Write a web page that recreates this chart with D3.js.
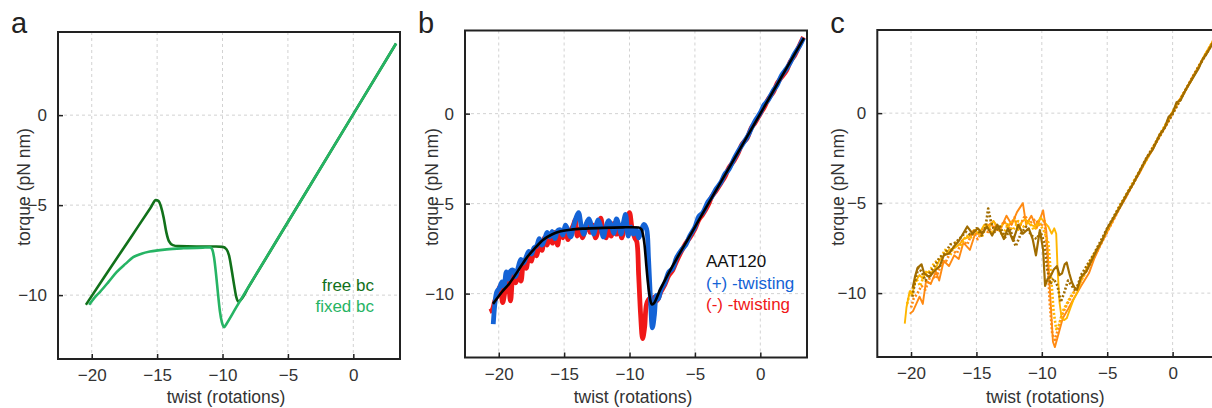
<!DOCTYPE html>
<html>
<head>
<meta charset="utf-8">
<script src="https://cdn.jsdelivr.net/npm/d3@7"></script>
<style>
  body { margin: 0; background: #fff; }
  svg { display: block; font-family: "Liberation Sans", Arial, Helvetica, sans-serif; }
  .tick text { fill: #333; font-size: 17px; }
  .tick line { stroke: #222; stroke-width: 1.5; }
</style>
</head>
<body>
<div id="chart"></div>
<script>
// axis ticks
var X_TICKS = [-20, -15, -10, -5, 0];
var Y_TICKS = [-10, -5, 0];

// panel a: model curves
var FREE_BC = [[-20.45,-10.54],[-19,-8.95],[-17,-6.78],[-15.5,-5.15],[-15.1,-4.72],[-14.9,-4.76],[-14.7,-5.1],[-14.5,-5.7],[-14.3,-6.5],[-14.1,-7.0],[-13.8,-7.22],[-13.4,-7.28],[-12,-7.3],[-10.5,-7.3],[-10,-7.32],[-9.7,-7.45],[-9.5,-7.8],[-9.3,-8.6],[-9.1,-9.5],[-8.95,-10.1],[-8.78,-10.36],[-8.6,-10.26],[-8,-9.54],[-5,-5.94],[0,0.06],[3.27,3.98]];
var FIXED_BC = [[-20.2,-10.54],[-19.8,-10.15],[-19.38,-9.83],[-18.7,-9.25],[-18.1,-8.72],[-17.4,-8.25],[-16.83,-7.89],[-16.2,-7.7],[-15.55,-7.58],[-14.27,-7.46],[-13,-7.4],[-11.5,-7.36],[-10.95,-7.35],[-10.8,-7.45],[-10.65,-7.9],[-10.5,-8.8],[-10.35,-9.9],[-10.2,-10.9],[-10.05,-11.5],[-9.87,-11.78],[-9.7,-11.6],[-9,-10.74],[-5,-5.94],[0,0.06],[3.27,3.98]];

// panel b: AAT120 measurements and fit
var PLUS_TWIST = [[-20.42,-11.7],[-20.3,-10.6],[-20.15,-9.9],[-19.95,-9.7],[-19.75,-9.35],[-19.6,-9.6],[-19.42,-8.8],[-19.25,-9.2],[-19.1,-8.75],[-18.9,-8.7],[-18.7,-9.05],[-18.5,-8.5],[-18.3,-8.1],[-18.1,-8.3],[-17.9,-7.95],[-17.7,-7.65],[-17.5,-7.8],[-17.3,-7.45],[-17.1,-7.35],[-16.9,-6.95],[-16.7,-7.3],[-16.5,-7.0],[-16.3,-6.6],[-16.1,-6.85],[-15.9,-6.55],[-15.7,-6.95],[-15.5,-6.5],[-15.3,-6.45],[-15.1,-6.75],[-14.9,-6.2],[-14.7,-6.5],[-14.5,-6.85],[-14.3,-6.3],[-14.1,-5.8],[-13.9,-5.5],[-13.7,-6.2],[-13.5,-6.7],[-13.3,-6.1],[-13.1,-5.85],[-12.9,-6.3],[-12.75,-6.7],[-12.55,-6.2],[-12.4,-5.9],[-12.2,-6.3],[-12.0,-6.85],[-11.8,-6.3],[-11.6,-5.95],[-11.4,-6.2],[-11.2,-6.65],[-11.0,-5.85],[-10.8,-6.25],[-10.65,-6.7],[-10.45,-6.0],[-10.3,-5.6],[-10.1,-6.8],[-9.9,-6.3],[-9.7,-6.7],[-9.5,-6.4],[-9.3,-6.9],[-9.1,-6.5],[-8.9,-6.15],[-8.7,-6.4],[-8.55,-8.0],[-8.4,-10.3],[-8.25,-11.9],[-8.1,-11.2],[-7.95,-10.1],[-7.8,-10.3],[-7.6,-9.8],[-7.3,-9.4],[-7.0,-8.8],[-6.7,-8.6],[-6.4,-8.0],[-6.0,-7.55],[-5.7,-7.3],[-5.4,-6.8],[-5.0,-6.3],[-4.7,-5.7],[-4.4,-5.5],[-4.0,-4.9],[-3.7,-4.6],[-3.4,-4.2],[-3.0,-3.8],[-2.7,-3.35],[-2.4,-3.1],[-2.0,-2.5],[-1.7,-2.1],[-1.4,-1.75],[-1.0,-1.3],[-0.7,-0.85],[-0.4,-0.4],[0,0.05],[0.3,0.5],[0.6,0.75],[1.0,1.3],[1.3,1.6],[1.6,2.1],[2.0,2.5],[2.3,2.85],[2.6,3.3],[3.0,3.75],[3.3,4.2]];
var MINUS_TWIST = [[-20.7,-11.0],[-20.5,-10.9],[-20.3,-10.4],[-20.1,-10.1],[-19.9,-9.6],[-19.7,-10.5],[-19.5,-9.8],[-19.3,-9.3],[-19.1,-10.4],[-18.9,-9.0],[-18.7,-9.4],[-18.5,-8.9],[-18.3,-9.3],[-18.1,-8.3],[-17.9,-8.6],[-17.7,-7.9],[-17.5,-8.2],[-17.3,-7.6],[-17.1,-7.9],[-16.9,-7.3],[-16.7,-7.6],[-16.5,-6.9],[-16.3,-7.3],[-16.1,-6.8],[-15.9,-7.2],[-15.7,-6.6],[-15.5,-7.3],[-15.3,-6.6],[-15.1,-6.9],[-14.9,-6.4],[-14.7,-7.0],[-14.5,-6.5],[-14.3,-6.2],[-14.15,-5.9],[-14.0,-6.8],[-13.8,-6.4],[-13.6,-6.9],[-13.4,-6.5],[-13.2,-6.0],[-13.0,-6.6],[-12.8,-6.2],[-12.6,-6.9],[-12.4,-6.5],[-12.2,-5.8],[-12.0,-6.6],[-11.8,-6.9],[-11.6,-6.3],[-11.4,-6.8],[-11.2,-6.1],[-11.0,-6.7],[-10.8,-6.2],[-10.6,-6.9],[-10.4,-6.4],[-10.2,-6.1],[-10.0,-5.5],[-9.8,-6.4],[-9.6,-6.9],[-9.45,-7.1],[-9.3,-9.0],[-9.15,-11.2],[-9.0,-12.5],[-8.85,-11.9],[-8.7,-10.6],[-8.5,-10.3],[-8.3,-10.5],[-8.1,-10.2],[-7.9,-10.4],[-7.6,-9.9],[-7.3,-9.5],[-7.0,-9.0],[-6.7,-8.7],[-6.4,-8.2],[-6.0,-7.6],[-5.7,-7.2],[-5.4,-6.9],[-5.0,-6.4],[-4.7,-5.9],[-4.4,-5.6],[-4.0,-5.1],[-3.7,-4.6],[-3.4,-4.3],[-3.0,-3.85],[-2.7,-3.5],[-2.4,-3.0],[-2.0,-2.6],[-1.7,-2.2],[-1.4,-1.7],[-1.0,-1.35],[-0.7,-0.8],[-0.4,-0.5],[0,0],[0.3,0.35],[0.6,0.8],[1.0,1.2],[1.3,1.7],[1.6,2.0],[2.0,2.4],[2.3,2.9],[2.6,3.2],[3.0,3.8],[3.3,4.25]];
var FIT_B = [[-20.44,-10.57],[-19.8,-9.95],[-19.17,-9.42],[-18.5,-8.7],[-17.89,-8.03],[-17.2,-7.45],[-16.62,-7.02],[-15.9,-6.7],[-15.34,-6.55],[-14.5,-6.45],[-13.56,-6.39],[-12,-6.35],[-10.5,-6.32],[-9.74,-6.31],[-9.3,-6.33],[-9.1,-6.42],[-8.95,-6.8],[-8.85,-7.3],[-8.72,-8.4],[-8.59,-9.42],[-8.45,-10.2],[-8.3,-10.6],[-8.15,-10.55],[-7.7,-9.85],[-5,-6.3],[-2.5,-3.15],[0,0],[3.33,4.2]];

// panel c: repeated runs (solid and dotted)
var YELLOW_SOLID = [[-20.48,-11.7],[-20.35,-10.8],[-20.1,-9.9],[-19.9,-10.1],[-19.7,-9.4],[-19.35,-9.0],[-19.1,-9.2],[-18.85,-8.8],[-18.5,-8.9],[-18.1,-8.6],[-17.85,-8.2],[-17.6,-8.0],[-17.3,-7.8],[-17.1,-7.6],[-16.7,-7.5],[-16.3,-7.3],[-16.0,-7.0],[-15.6,-6.9],[-15.2,-6.5],[-14.8,-6.7],[-14.4,-6.2],[-14.1,-6.4],[-13.7,-6.0],[-13.3,-6.5],[-12.9,-6.1],[-12.5,-6.2],[-12.1,-5.9],[-11.8,-6.5],[-11.5,-6.0],[-11.25,-5.9],[-10.9,-6.2],[-10.5,-6.3],[-10.1,-5.8],[-9.75,-6.1],[-9.5,-6.3],[-9.25,-6.7],[-9.05,-6.4],[-8.9,-6.7],[-8.8,-8.6],[-8.65,-10.5],[-8.5,-11.3],[-8.3,-11.5],[-8.1,-11.4],[-7.8,-10.8],[-7.6,-10.4],[-7.25,-9.9],[-7.0,-9.3],[-6.5,-8.5],[-6.0,-7.8],[-5.5,-7.2],[-5.0,-6.5],[-4.5,-5.8],[-4.0,-5.1],[-3.5,-4.5],[-3.0,-3.9],[-2.5,-3.2],[-2.0,-2.6],[-1.5,-1.9],[-1.0,-1.3],[-0.5,-0.6],[0,0.1],[0.5,0.7],[1.0,1.3],[1.5,1.9],[2.0,2.6],[2.5,3.3],[3.0,3.9],[3.4,4.4]];
var ORANGE_SOLID = [[-20.1,-11.15],[-19.85,-11.0],[-19.6,-10.6],[-19.35,-10.2],[-19.1,-10.6],[-18.85,-9.3],[-18.5,-9.5],[-18.1,-8.8],[-17.85,-9.3],[-17.5,-8.2],[-17.1,-8.5],[-16.7,-7.9],[-16.35,-8.1],[-16.0,-7.2],[-15.5,-7.6],[-15.1,-6.7],[-14.6,-6.7],[-14.2,-6.3],[-13.7,-6.0],[-13.2,-6.5],[-12.7,-5.7],[-12.3,-6.2],[-11.9,-5.5],[-11.45,-5.0],[-11.2,-6.2],[-10.8,-5.7],[-10.4,-6.4],[-9.9,-5.4],[-9.65,-6.6],[-9.4,-9.6],[-9.15,-12.7],[-9.0,-13.0],[-8.7,-12.2],[-8.4,-11.4],[-8.0,-10.9],[-7.63,-10.4],[-7.0,-9.6],[-6.4,-8.9],[-6.0,-8.1],[-5.5,-7.3],[-5.0,-6.6],[-4.5,-5.9],[-4.0,-5.2],[-3.5,-4.6],[-3.0,-3.9],[-2.5,-3.3],[-2.0,-2.6],[-1.5,-2.0],[-1.0,-1.3],[-0.5,-0.7],[0,0],[0.5,0.7],[1.0,1.3],[1.5,2.0],[2.0,2.6],[2.5,3.2],[3.0,3.9],[3.4,4.45]];
var BROWN_SOLID = [[-19.87,-9.7],[-19.7,-9.1],[-19.5,-8.6],[-19.2,-8.4],[-19.0,-8.9],[-18.6,-9.1],[-18.25,-8.8],[-17.8,-8.5],[-17.5,-7.9],[-17.1,-7.8],[-16.7,-7.4],[-16.35,-7.1],[-16.1,-6.8],[-15.7,-6.3],[-15.3,-6.7],[-14.9,-6.4],[-14.55,-6.7],[-14.2,-6.3],[-13.8,-6.8],[-13.4,-6.2],[-12.9,-7.0],[-12.6,-6.4],[-12.2,-7.1],[-11.8,-6.2],[-11.45,-6.7],[-11.0,-6.4],[-10.7,-7.0],[-10.45,-7.9],[-10.15,-6.5],[-9.9,-7.6],[-9.75,-9.6],[-9.55,-9.2],[-9.35,-9.1],[-9.1,-8.7],[-8.85,-8.5],[-8.65,-9.0],[-8.45,-8.9],[-8.25,-8.4],[-8.1,-8.3],[-7.9,-8.9],[-7.7,-9.4],[-7.5,-9.7],[-7.3,-9.8],[-7.0,-9.1],[-6.6,-8.8],[-6.2,-8.2],[-5.8,-7.6],[-5.4,-7.1],[-5.0,-6.4],[-4.5,-5.8],[-4.0,-5.2],[-3.5,-4.5],[-3.0,-3.9],[-2.5,-3.2],[-2.0,-2.5],[-1.5,-2.0],[-1.0,-1.2],[-0.6,-0.8],[-0.3,-0.2],[0,0],[0.3,0.6],[0.6,0.7],[1.0,1.3],[1.5,1.9],[2.0,2.5],[2.3,3.0],[2.6,3.3],[3.0,3.8],[3.4,4.4]];
var YELLOW_DOT = [[-20.3,-10.6],[-20.1,-10.0],[-19.85,-9.7],[-19.6,-9.2],[-19.3,-9.6],[-19.0,-9.0],[-18.6,-8.8],[-18.2,-8.3],[-17.8,-8.1],[-17.4,-7.6],[-17.0,-7.9],[-16.6,-7.2],[-16.2,-7.4],[-15.8,-6.8],[-15.4,-6.9],[-15.0,-6.5],[-14.6,-6.9],[-14.2,-6.2],[-13.8,-6.6],[-13.4,-6.3],[-13.0,-6.8],[-12.6,-6.2],[-12.2,-6.5],[-11.8,-6.0],[-11.4,-6.3],[-11.0,-6.0],[-10.6,-6.5],[-10.2,-6.1],[-9.8,-6.6],[-9.5,-7.2],[-9.3,-9.0],[-9.1,-11.0],[-8.9,-12.0],[-8.7,-11.8],[-8.4,-11.0],[-8.1,-10.6],[-7.8,-10.2],[-7.4,-9.8],[-7.0,-9.3],[-6.0,-7.9],[-5.0,-6.5],[-4.0,-5.1],[-3.0,-3.8],[-2.0,-2.6],[-1.0,-1.2],[0,0.05],[1.0,1.3],[2.0,2.6],[3.0,3.9],[3.4,4.4]];
var ORANGE_DOT = [[-20.0,-10.8],[-19.8,-10.3],[-19.5,-10.0],[-19.2,-9.6],[-18.9,-9.8],[-18.5,-9.0],[-18.1,-9.2],[-17.7,-8.4],[-17.3,-8.2],[-16.9,-7.6],[-16.5,-7.8],[-16.1,-7.1],[-15.7,-7.3],[-15.3,-6.6],[-14.9,-7.0],[-14.5,-6.5],[-14.1,-6.6],[-13.7,-6.2],[-13.3,-6.6],[-12.9,-6.0],[-12.5,-6.4],[-12.1,-5.8],[-11.7,-6.3],[-11.3,-5.7],[-10.9,-6.1],[-10.5,-5.9],[-10.1,-6.3],[-9.8,-6.0],[-9.6,-7.5],[-9.4,-10.5],[-9.2,-12.3],[-9.0,-12.6],[-8.8,-12.1],[-8.5,-11.3],[-8.2,-10.8],[-7.9,-10.4],[-7.5,-9.9],[-7.0,-9.3],[-6.0,-8.0],[-5.0,-6.6],[-4.0,-5.2],[-3.0,-3.9],[-2.0,-2.5],[-1.0,-1.3],[0,0],[1.0,1.3],[2.0,2.6],[3.0,3.85],[3.4,4.4]];
var BROWN_DOT = [[-19.9,-10.2],[-19.7,-9.4],[-19.45,-8.6],[-19.2,-8.8],[-18.9,-9.3],[-18.6,-8.9],[-18.2,-8.5],[-17.8,-8.0],[-17.4,-7.8],[-17.0,-7.3],[-16.6,-7.2],[-16.2,-6.9],[-15.8,-6.6],[-15.4,-6.8],[-15.0,-6.4],[-14.6,-6.8],[-14.3,-6.3],[-14.1,-5.3],[-13.9,-6.0],[-13.6,-6.6],[-13.2,-6.3],[-12.8,-6.9],[-12.4,-6.5],[-12.0,-7.4],[-11.6,-6.7],[-11.2,-6.3],[-10.8,-6.8],[-10.4,-7.0],[-10.1,-6.6],[-9.8,-7.2],[-9.6,-8.6],[-9.35,-9.5],[-9.1,-9.2],[-8.8,-9.6],[-8.55,-10.5],[-8.3,-10.0],[-8.0,-9.3],[-7.7,-9.6],[-7.4,-9.9],[-7.0,-9.0],[-6.0,-7.8],[-5.0,-6.4],[-4.0,-5.1],[-3.0,-3.9],[-2.0,-2.5],[-1.0,-1.3],[0,-0.05],[1.0,1.3],[2.0,2.6],[3.0,3.8],[3.4,4.4]];

function drawChart() {
    var svg = d3.select("#chart").append("svg")
        .attr("width", 1212)
        .attr("height", 408);

    var W = 342, H = 327;
    // shared scale domains (same for all three panels)
    var xDomain = [-22.58, 3.57];
    var yDomain = [-13.55, 4.62];

    var panels = [
        { letter: "a", left: 58, top: 32, ylabelX: 24,
          series: [
            { data: FREE_BC, color: "#11711a", width: 2.6, curve: d3.curveMonotoneX },
            { data: FIXED_BC, color: "#26b464", width: 2.6, curve: d3.curveMonotoneX }
          ],
          legend: [
            { text: "free bc", color: "#11711a", x: 374, y: 291, anchor: "end" },
            { text: "fixed bc", color: "#26b464", x: 374, y: 312, anchor: "end" }
          ] },
        { letter: "b", left: 465, top: 30.5, ylabelX: 432,
          series: [
            { data: MINUS_TWIST, color: "#f01818", width: 4.8, curve: d3.curveCatmullRom },
            { data: PLUS_TWIST, color: "#1463d6", width: 4.8, curve: d3.curveCatmullRom },
            { data: FIT_B, color: "#000", width: 2.6, curve: d3.curveMonotoneX }
          ],
          legend: [
            { text: "AAT120", color: "#111", x: 706, y: 267, anchor: "start" },
            { text: "(+) -twisting", color: "#1463d6", x: 706, y: 288.5, anchor: "start" },
            { text: "(-) -twisting", color: "#f01818", x: 706, y: 310, anchor: "start" }
          ] },
        { letter: "c", left: 877.3, top: 30, ylabelX: 838,
          series: [
            { data: ORANGE_SOLID, color: "#ff8a12", width: 1.9, curve: d3.curveLinear },
            { data: YELLOW_SOLID, color: "#ffb600", width: 1.9, curve: d3.curveLinear },
            { data: ORANGE_DOT, color: "#ff8a12", width: 2.6, dash: "2,2", curve: d3.curveLinear },
            { data: YELLOW_DOT, color: "#ffb600", width: 2.6, dash: "2,2", curve: d3.curveLinear },
            { data: BROWN_DOT, color: "#a06c00", width: 2.6, dash: "2,2", curve: d3.curveLinear },
            { data: BROWN_SOLID, color: "#a06c00", width: 2.2, curve: d3.curveLinear }
          ],
          legend: [] }
    ];

    panels.forEach(function (p) {
        var x = d3.scaleLinear().domain(xDomain).range([0, W]);
        var y = d3.scaleLinear().domain(yDomain).range([H, 0]);
        var g = svg.append("g").attr("transform", "translate(" + p.left + "," + p.top + ")");

        // dashed grid
        g.selectAll(".vgrid").data(X_TICKS).enter().append("line")
            .attr("x1", function (d) { return x(d); }).attr("x2", function (d) { return x(d); })
            .attr("y1", 0).attr("y2", H)
            .attr("stroke", "#d2d2d2").attr("stroke-dasharray", "3,3");
        g.selectAll(".hgrid").data(Y_TICKS).enter().append("line")
            .attr("y1", function (d) { return y(d); }).attr("y2", function (d) { return y(d); })
            .attr("x1", 0).attr("x2", W)
            .attr("stroke", "#d2d2d2").attr("stroke-dasharray", "3,3");

        // data lines
        p.series.forEach(function (s) {
            var line = d3.line()
                .x(function (d) { return x(d[0]); })
                .y(function (d) { return y(d[1]); })
                .curve(s.curve);
            g.append("path")
                .datum(s.data)
                .attr("d", line)
                .attr("fill", "none")
                .attr("stroke", s.color)
                .attr("stroke-width", s.width)
                .attr("stroke-linejoin", "round")
                .attr("stroke-dasharray", s.dash || null);
        });

        // axes, inward ticks
        var xAxis = g.append("g").attr("transform", "translate(0," + H + ")")
            .call(d3.axisBottom(x).tickValues(X_TICKS).tickSize(-5).tickPadding(10));
        var yAxis = g.append("g")
            .call(d3.axisLeft(y).tickValues(Y_TICKS).tickSize(-5).tickPadding(11));
        xAxis.select(".domain").remove();
        yAxis.select(".domain").remove();
        svg.selectAll(".tick text").attr("font-family", null);

        // frame
        g.append("rect")
            .attr("width", W).attr("height", H)
            .attr("fill", "none").attr("stroke", "#222").attr("stroke-width", 2);

        // axis labels
        svg.append("text")
            .attr("x", p.left + W / 2 - 3).attr("y", 403)
            .attr("text-anchor", "middle")
            .attr("font-size", "17.5px").attr("fill", "#333")
            .text("twist (rotations)");
        svg.append("text")
            .attr("transform", "translate(" + p.ylabelX + ",187) rotate(-90)")
            .attr("dy", "0.35em")
            .attr("text-anchor", "middle")
            .attr("font-size", "17.5px").attr("fill", "#333")
            .text("torque (pN nm)");

        // panel letter
        svg.append("text")
            .attr("x", p.left - 47).attr("y", 33)
            .attr("font-size", "29px").attr("fill", "#222")
            .text(p.letter);

        // legend texts
        p.legend.forEach(function (l) {
            svg.append("text")
                .attr("x", l.x).attr("y", l.y)
                .attr("text-anchor", l.anchor)
                .attr("font-size", "17px").attr("fill", l.color)
                .text(l.text);
        });
    });
}

window.onload = drawChart;
</script>
</body>
</html>
